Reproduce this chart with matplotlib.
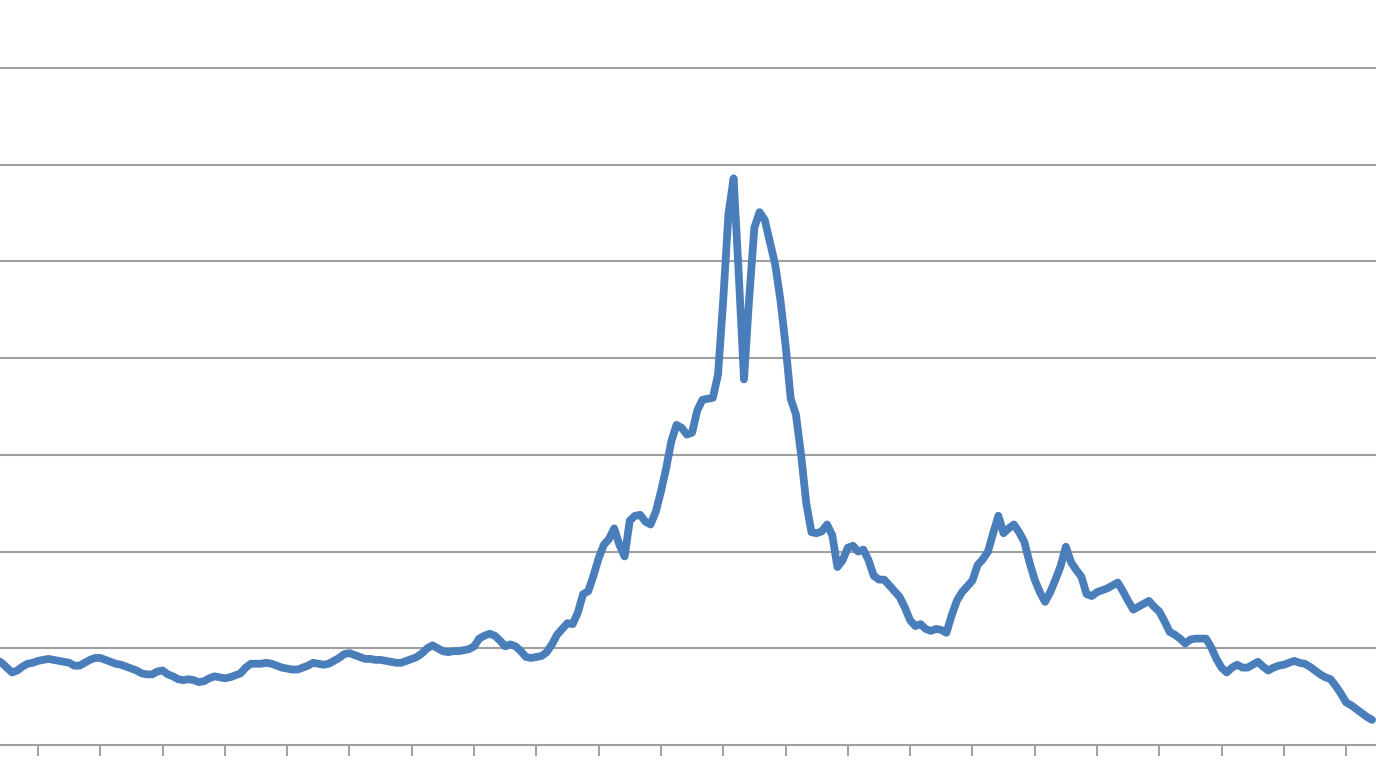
import matplotlib
matplotlib.use("Agg")
import matplotlib.pyplot as plt
import numpy as np

# monthly series, one x tick per 12 months (first value sits 8 months before the first tick)
start_month = -8
values = [
    8.8, 8.5, 8.0, 7.5, 7.7, 8.1, 8.4, 8.5,
    8.7, 8.8, 8.9, 8.8, 8.7, 8.6, 8.5, 8.2, 8.2, 8.5, 8.8, 9.0,
    9.0, 8.8, 8.6, 8.4, 8.3, 8.1, 7.9, 7.7, 7.4, 7.3, 7.3, 7.6,
    7.7, 7.3, 7.1, 6.8, 6.7, 6.8, 6.7, 6.5, 6.6, 6.9, 7.1, 7.0,
    6.9, 7.0, 7.2, 7.4, 8.0, 8.4, 8.4, 8.4, 8.5, 8.4, 8.2, 8.0,
    7.9, 7.8, 7.8, 8.0, 8.2, 8.5, 8.4, 8.3, 8.4, 8.7, 9.0, 9.4,
    9.5, 9.3, 9.1, 8.9, 8.9, 8.8, 8.8, 8.7, 8.6, 8.5, 8.5, 8.7,
    8.9, 9.1, 9.5, 10.0, 10.3, 10.0, 9.7, 9.6, 9.7, 9.7, 9.8, 9.9,
    10.2, 11.0, 11.3, 11.5, 11.3, 10.8, 10.2, 10.4, 10.2, 9.7, 9.1, 9.0,
    9.1, 9.2, 9.6, 10.4, 11.4, 12.0, 12.6, 12.5, 13.7, 15.6, 15.9, 17.5,
    19.3, 20.7, 21.3, 22.4, 20.7, 19.5, 23.2, 23.7, 23.8, 23.1, 22.8, 24.1,
    26.2, 28.6, 31.4, 33.1, 32.8, 32.1, 32.3, 34.6, 35.7, 35.8, 35.9, 38.3,
    46.0, 54.9, 58.6, 48.6, 37.8, 46.2, 53.5, 55.1, 54.3, 52.0, 49.7, 46.1,
    41.4, 35.8, 34.2, 30.0, 25.0, 22.0, 21.9, 22.1, 22.8, 21.7, 18.4, 19.1,
    20.4, 20.6, 20.0, 20.2, 19.1, 17.5, 17.1, 17.1, 16.5, 15.9, 15.3, 14.2,
    12.9, 12.3, 12.5, 12.0, 11.8, 12.0, 11.9, 11.6, 13.4, 14.9, 15.8, 16.4,
    17.0, 18.6, 19.2, 20.0, 21.9, 23.7, 21.9, 22.4, 22.8, 22.0, 21.0, 18.9,
    17.1, 15.8, 14.8, 15.8, 17.1, 18.5, 20.5, 18.9, 18.1, 17.4, 15.6, 15.4,
    15.8, 16.0, 16.2, 16.5, 16.8, 15.9, 14.9, 14.0, 14.3, 14.6, 14.9, 14.3,
    13.8, 12.8, 11.7, 11.4, 11.0, 10.5, 10.9, 11.0, 11.0, 11.0, 10.1, 8.9,
    8.0, 7.5, 8.0, 8.3, 8.0, 8.0, 8.3, 8.6, 8.1, 7.7, 8.0, 8.2,
    8.3, 8.5, 8.7, 8.5, 8.4, 8.1, 7.7, 7.3, 7.0, 6.8, 6.1, 5.3,
    4.4, 4.1, 3.7, 3.3, 2.9, 2.6,
]
y_gridlines = [10, 20, 30, 40, 50, 60, 70]
n_years = 22

months = np.arange(start_month, start_month + len(values))

fig = plt.figure(figsize=(13.76, 7.72), dpi=100)
ax = fig.add_axes([0, 0.035, 1, 0.965])

ax.plot(months, values, color="#4a7ebb", linewidth=5.6, solid_joinstyle="round",
        solid_capstyle="round", zorder=3)

for g in y_gridlines:
    ax.axhline(g, color="#a0a0a0", linewidth=1.5, zorder=1)

ax.set_xlim(-7.32, 257.75)
ax.set_ylim(0, 77.04)

ax.set_xticks(np.arange(0, 12 * n_years, 12))
ax.set_xticklabels([])
ax.set_yticks([])
ax.tick_params(axis="x", direction="out", length=8, width=1.4, color="#a0a0a0")

for side in ["top", "right", "left"]:
    ax.spines[side].set_visible(False)
ax.spines["bottom"].set_color("#a0a0a0")
ax.spines["bottom"].set_linewidth(1.5)

fig.savefig("out.png", dpi=100, facecolor="white")
